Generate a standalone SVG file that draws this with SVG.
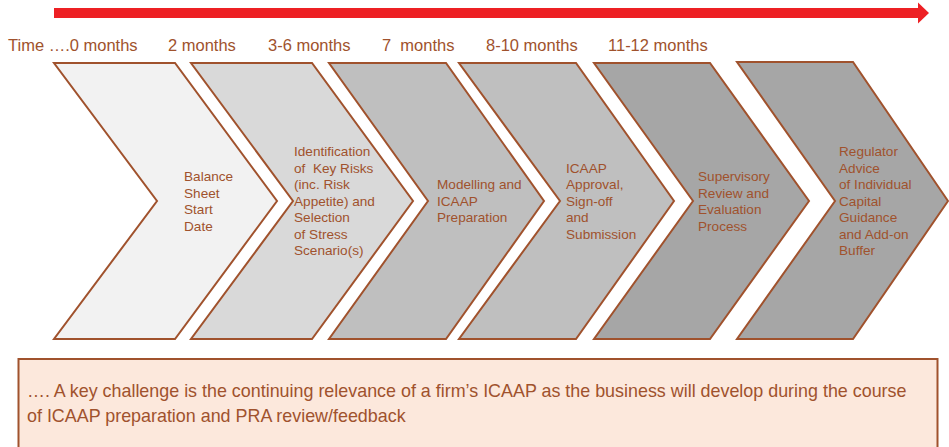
<svg xmlns="http://www.w3.org/2000/svg" width="949" height="447" viewBox="0 0 949 447">
<style>
.t{font-family:"Liberation Sans",Arial,sans-serif;fill:#a0522d}
.time{font-size:16.5px}
.lbl{font-size:13.6px}
.note{font-size:17.9px}
.chev{stroke:#a0522d;stroke-width:2;stroke-linejoin:miter}
</style>
<rect width="949" height="447" fill="#ffffff"/>
<g id="timeline">
<rect x="54" y="8" width="865" height="10" fill="#ed2024"/>
<polygon points="918,2.5 929,13 918,23.5" fill="#ed2024"/>
</g>
<g id="time-labels">
<text class="t time" x="8" y="51">Time ….0 months</text>
<text class="t time" x="168" y="51">2 months</text>
<text class="t time" x="268" y="51">3-6 months</text>
<text class="t time" x="382" y="51" xml:space="preserve">7  months</text>
<text class="t time" x="486" y="51">8-10 months</text>
<text class="t time" x="608" y="51">11-12 months</text>
</g>
<g id="node1">
<polygon class="chev" fill="#f2f2f2" points="54,63 175,63 277,201 175,339 54,339 157,201"/>
<text class="t lbl" x="184"><tspan x="184" y="181">Balance</tspan><tspan x="184" y="197.5">Sheet</tspan><tspan x="184" y="214">Start</tspan><tspan x="184" y="230.5">Date</tspan></text>
</g>
<g id="node2">
<polygon class="chev" fill="#d9d9d9" points="191,63 312,63 413,201 312,339 191,339 293,201"/>
<text class="t lbl" xml:space="preserve"><tspan x="294" y="156">Identification</tspan><tspan x="294" y="172.5">of  Key Risks</tspan><tspan x="294" y="189">(inc. Risk</tspan><tspan x="294" y="205.5">Appetite) and</tspan><tspan x="294" y="222">Selection</tspan><tspan x="294" y="238.5">of Stress</tspan><tspan x="294" y="255">Scenario(s)</tspan></text>
</g>
<g id="node3">
<polygon class="chev" fill="#bfbfbf" points="329,63 446,63 544,201 446,339 329,339 428,201"/>
<text class="t lbl"><tspan x="437" y="189">Modelling and</tspan><tspan x="437" y="205.5">ICAAP</tspan><tspan x="437" y="222">Preparation</tspan></text>
</g>
<g id="node4">
<polygon class="chev" fill="#bfbfbf" points="459,63 576,63 674,201 576,339 459,339 560,201"/>
<text class="t lbl"><tspan x="566" y="172.5">ICAAP</tspan><tspan x="566" y="189">Approval,</tspan><tspan x="566" y="205.5">Sign-off</tspan><tspan x="566" y="222">and</tspan><tspan x="566" y="238.5">Submission</tspan></text>
</g>
<g id="node5">
<polygon class="chev" fill="#a6a6a6" points="594,63 710,63 809,201 710,339 594,339 693,201"/>
<text class="t lbl"><tspan x="698" y="181">Supervisory</tspan><tspan x="698" y="197.5">Review and</tspan><tspan x="698" y="214">Evaluation</tspan><tspan x="698" y="230.5">Process</tspan></text>
</g>
<g id="node6">
<polygon class="chev" fill="#a6a6a6" points="737,62 853,62 948,201 853,339 737,339 835,201"/>
<text class="t lbl"><tspan x="839" y="156">Regulator</tspan><tspan x="839" y="172.5">Advice</tspan><tspan x="839" y="189">of Individual</tspan><tspan x="839" y="205.5">Capital</tspan><tspan x="839" y="222">Guidance</tspan><tspan x="839" y="238.5">and Add-on</tspan><tspan x="839" y="255">Buffer</tspan></text>
</g>
<g id="connectors"></g>
<g id="note">
<rect x="18.5" y="359" width="919" height="100" fill="#fce8dc" stroke="#a0522d" stroke-width="2"/>
<text class="t note"><tspan x="27" y="397">…. A key challenge is the continuing relevance of a firm’s ICAAP as the business will develop during the course</tspan><tspan x="27" y="422">of ICAAP preparation and PRA review/feedback</tspan></text>
</g>
</svg>
